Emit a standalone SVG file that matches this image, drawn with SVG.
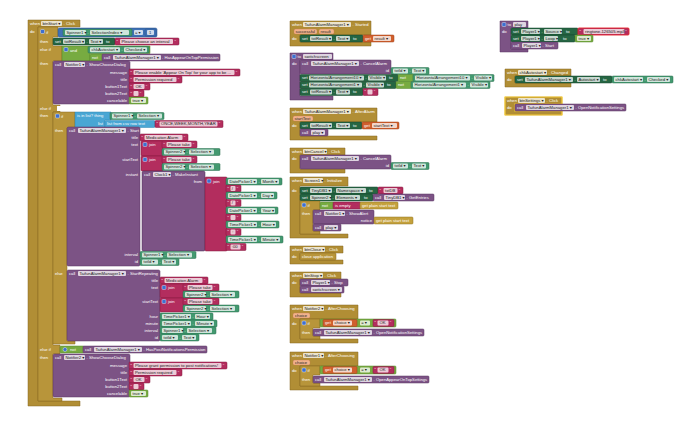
<svg xmlns="http://www.w3.org/2000/svg" width="690" height="421" viewBox="0 0 690 421">
<style>
.ev{fill:#b18e35;stroke:#846720;stroke-width:.5}
.ct{fill:#b8953a;stroke:#846720;stroke-width:.5}
.pr{fill:#7c5385;stroke:#583762;stroke-width:.5}
.st{fill:#266643;stroke:#16452c;stroke-width:.5}
.cg{fill:#439970;stroke:#2b6f4e;stroke-width:.5}
.tx{fill:#b32d5e;stroke:#84183e;stroke-width:.5}
.lg{fill:#77ab41;stroke:#55862a;stroke-width:.5}
.mt{fill:#3f71b5;stroke:#2b538b;stroke-width:.5}
.ls{fill:#49a6d4;stroke:#2f86b0;stroke-width:.5}
.vr{fill:#d05f2d;stroke:#a2431a;stroke-width:.5}
.gv{fill:#c4a13d;stroke:#927522;stroke-width:.5}
.pm{fill:#f2b38d;stroke:#c57a4c;stroke-width:.4}
.fd{fill:#fff;fill-opacity:.75}
.gear{fill:#3d6fd0;stroke:#fff;stroke-width:.4}
text{font-family:"Liberation Sans",Arial,"DejaVu Sans",sans-serif;font-size:4.2px}
.w{fill:#fff}
.k{fill:#222}
.e{text-anchor:end}
</style>
<rect width="690" height="421" fill="#fff"/>

<!-- ================= LEFT: when btnStart.Click ================= -->
<g id="btnStart-click">
<path class="ev" d="M28 20H80V27H38V401H80V406H28Z"/>
<text class="w" x="30" y="24.8">when</text>
<rect class="fd" x="41" y="21" width="21" height="5" rx="1"/><text class="k" x="42.5" y="24.8">btnStart ▾</text>
<text class="w" x="63.5" y="24.8">.</text><text class="w" x="66" y="24.8">Click</text>
<text class="w" x="30" y="33">do</text>

<g id="if-main">
<path class="ct" d="M38 27H58V37H53V46H62V61H53V105H60V112H53V345H60V354H53V398H62V401H38Z"/>
<rect class="gear" x="40.5" y="29.5" width="4" height="4" rx="1"/>
<text class="w" x="46" y="33.5">if</text>
<text class="w" x="40" y="43">then</text>
<text class="w" x="40" y="51">else if</text>
<text class="w" x="40" y="65">then</text>
<text class="w" x="40" y="110">else if</text>
<rect x="57" y="106" width="4" height="5" fill="#fff"/>
<text class="w" x="40" y="117">then</text>
<text class="w" x="40" y="351">else if</text>
<text class="w" x="40" y="359">then</text>
</g>

<g id="cond-selectionindex">
<rect class="mt" x="58" y="28" width="99" height="9" rx="1.5"/>
<rect class="cg" x="63" y="29" width="69" height="7" rx="1"/>
<rect class="fd" x="65" y="30" width="21" height="5" rx="1"/><text class="k" x="66.5" y="33.8">Spinner1 ▾</text>
<text class="w" x="87.5" y="33.8">.</text>
<rect class="fd" x="90" y="30" width="39" height="5" rx="1"/><text class="k" x="91.5" y="33.8">SelectionIndex ▾</text>
<rect class="fd" x="134" y="30" width="9" height="5" rx="1"/><text class="k" x="135" y="33.8">= ▾</text>
<rect class="mt" x="145" y="29" width="11" height="7" rx="1"/>
<rect class="fd" x="147" y="30" width="7" height="5" rx="1"/><text class="k" x="149" y="33.8">1</text>
</g>

<g id="set-result-choose">
<rect class="st" x="53" y="38" width="62" height="7" rx="1"/>
<text class="w" x="55" y="42.8">set</text>
<rect class="fd" x="63" y="39" width="22" height="5" rx="1"/><text class="k" x="64.5" y="42.8">txtResult ▾</text>
<text class="w" x="86.5" y="42.8">.</text>
<rect class="fd" x="89" y="39" width="14" height="5" rx="1"/><text class="k" x="90.5" y="42.8">Text ▾</text>
<text class="w" x="106" y="42.8">to</text>
<rect class="tx" x="115" y="38" width="64" height="7" rx="1"/>
<text class="w" x="116.5" y="42.8">“</text>
<rect class="fd" x="120" y="39" width="53" height="5" rx="1"/><text class="k" x="121.5" y="42.8">Please choose an interval</text>
<text class="w" x="174.5" y="42.8">”</text>
</g>

<g id="cond-and">
<path class="lg" d="M62 46H150V53.5H90V61H62Z"/>
<rect class="gear" x="64" y="47.5" width="4" height="4" rx="1"/>
<text class="w" x="70" y="51.5">and</text>
<rect class="cg" x="88" y="46.5" width="61" height="6.5" rx="1"/>
<rect class="fd" x="90" y="47.3" width="30" height="5" rx="1"/><text class="k" x="91.5" y="51.1">chkAutostart ▾</text>
<text class="w" x="121.5" y="51.1">.</text>
<rect class="fd" x="124" y="47.3" width="23" height="5" rx="1"/><text class="k" x="125.5" y="51.1">Checked ▾</text>
<rect class="lg" x="90" y="54" width="13" height="7" rx="1"/>
<text class="w" x="92" y="58.8">not</text>
<rect class="pr" x="102" y="54" width="118" height="7" rx="1"/>
<text class="w" x="104" y="58.8">call</text>
<rect class="fd" x="113" y="55" width="48" height="5" rx="1"/><text class="k" x="114.5" y="58.8">TaifunAlarmManager1 ▾</text>
<text class="w" x="162" y="58.8">.</text>
<text class="w" x="164.5" y="58.8">HasAppearOnTopPermission</text>
</g>

<g id="notifier1-choose">
<rect class="pr" x="53" y="61" width="77" height="43" rx="1.5"/>
<text class="w" x="55" y="65.8">call</text>
<rect class="fd" x="64" y="62" width="21" height="5" rx="1"/><text class="k" x="65.5" y="65.8">Notifier1 ▾</text>
<text class="w" x="86.5" y="65.8">.</text>
<text class="w" x="89" y="65.8">ShowChooseDialog</text>
<text class="w e" x="127" y="73.8">message</text>
<text class="w e" x="127" y="80.8">title</text>
<text class="w e" x="127" y="87.8">button1Text</text>
<text class="w e" x="127" y="94.8">button2Text</text>
<text class="w e" x="127" y="101.8">cancelable</text>
<rect class="tx" x="129" y="69" width="111" height="7" rx="1"/><text class="w" x="130.5" y="73.8">“</text>
<rect class="fd" x="133.5" y="70" width="101" height="5" rx="1"/><text class="k" x="135" y="73.8">Please enable 'Appear On Top' for your app to be ...</text><text class="w" x="235.8" y="73.8">”</text>
<rect class="tx" x="129" y="76" width="53" height="7" rx="1"/><text class="w" x="130.5" y="80.8">“</text>
<rect class="fd" x="133.5" y="77" width="43" height="5" rx="1"/><text class="k" x="135" y="80.8">Permission required</text><text class="w" x="177.8" y="80.8">”</text>
<rect class="tx" x="129" y="83" width="21" height="7" rx="1"/><text class="w" x="130.5" y="87.8">“</text>
<rect class="fd" x="133.5" y="84" width="11" height="5" rx="1"/><text class="k" x="135.5" y="87.8">OK</text><text class="w" x="145.8" y="87.8">”</text>
<rect class="tx" x="129" y="90" width="15" height="7" rx="1"/><text class="w" x="130.5" y="94.8">“</text>
<rect class="fd" x="133.5" y="91" width="5" height="5" rx="1"/><text class="w" x="139.8" y="94.8">”</text>
<rect class="lg" x="129" y="97" width="19" height="7" rx="1"/>
<rect class="fd" x="131" y="98" width="15" height="5" rx="1"/><text class="k" x="132.5" y="101.8">true ▾</text>
</g>

<g id="if-inner">
<path class="ct" d="M53 112H75V128H67V341H75V344H53Z"/>
<rect class="gear" x="55.5" y="114" width="4" height="4" rx="1"/>
<text class="w" x="61" y="117.8">if</text>
<text class="w" x="55" y="132">then</text>
<text class="w" x="55" y="275">else</text>
</g>

<g id="cond-isinlist">
<path class="ls" d="M75 112H111V120H105V128H75Z"/>
<text class="w" x="77" y="116.8">is in list? thing</text>
<text class="w e" x="103" y="124.8">list</text>
<rect class="cg" x="110" y="112.5" width="54" height="7" rx="1"/>
<rect class="fd" x="112" y="113.5" width="21" height="5" rx="1"/><text class="k" x="113.5" y="117.3">Spinner1 ▾</text>
<text class="w" x="134.5" y="117.3">.</text>
<rect class="fd" x="137" y="113.5" width="25" height="5" rx="1"/><text class="k" x="138.5" y="117.3">Selection ▾</text>
<rect class="ls" x="105" y="120.5" width="50" height="7" rx="1"/>
<text class="w" x="107" y="125.3">list from csv row text</text>
<rect class="tx" x="155" y="120.5" width="68" height="7" rx="1"/><text class="w" x="156.5" y="125.3">“</text>
<rect class="fd" x="159.5" y="121.5" width="58" height="5" rx="1"/><text class="k" x="161" y="125.3">ONCE,WEEK,MONTH,YEAR</text><text class="w" x="218.8" y="125.3">”</text>
</g>

<g id="alarm-start">
<rect class="pr" x="67" y="127" width="73" height="139" rx="1.5"/>
<text class="w" x="69" y="131.8">call</text>
<rect class="fd" x="78" y="128" width="48" height="5" rx="1"/><text class="k" x="79.5" y="131.8">TaifunAlarmManager1 ▾</text>
<text class="w" x="127.5" y="131.8">.</text>
<text class="w" x="130" y="131.8">Start</text>
<text class="w e" x="138" y="138.8">title</text>
<text class="w e" x="138" y="145.8">text</text>
<text class="w e" x="138" y="160.8">startText</text>
<text class="w e" x="138" y="175.8">instant</text>
<text class="w e" x="138" y="256">interval</text>
<text class="w e" x="138" y="263">id</text>
<rect class="tx" x="140" y="134" width="48" height="7" rx="1"/><text class="w" x="141.5" y="138.8">“</text>
<rect class="fd" x="144.5" y="135" width="38" height="5" rx="1"/><text class="k" x="146" y="138.8">Medication Alarm</text><text class="w" x="183.8" y="138.8">”</text>
<!-- text join -->
<rect class="tx" x="141" y="141" width="22" height="15" rx="1"/>
<rect class="gear" x="143" y="142.5" width="4" height="4" rx="1"/><text class="w" x="149" y="145.8">join</text>
<rect class="tx" x="162" y="141" width="35" height="7" rx="1"/><text class="w" x="163.5" y="145.8">“</text>
<rect class="fd" x="166.5" y="142" width="25" height="5" rx="1"/><text class="k" x="168" y="145.8">Please take</text><text class="w" x="192.8" y="145.8">”</text>
<rect class="cg" x="162" y="148.5" width="58" height="7" rx="1"/>
<rect class="fd" x="164" y="149.5" width="21" height="5" rx="1"/><text class="k" x="165.5" y="153.3">Spinner2 ▾</text>
<text class="w" x="186.5" y="153.3">.</text>
<rect class="fd" x="189" y="149.5" width="25" height="5" rx="1"/><text class="k" x="190.5" y="153.3">Selection ▾</text>
<!-- startText join -->
<rect class="tx" x="141" y="156" width="22" height="15" rx="1"/>
<rect class="gear" x="143" y="157.5" width="4" height="4" rx="1"/><text class="w" x="149" y="160.8">join</text>
<rect class="tx" x="162" y="156" width="35" height="7" rx="1"/><text class="w" x="163.5" y="160.8">“</text>
<rect class="fd" x="166.5" y="157" width="25" height="5" rx="1"/><text class="k" x="168" y="160.8">Please take</text><text class="w" x="192.8" y="160.8">”</text>
<rect class="cg" x="162" y="163.5" width="58" height="7" rx="1"/>
<rect class="fd" x="164" y="164.5" width="21" height="5" rx="1"/><text class="k" x="165.5" y="168.3">Spinner2 ▾</text>
<text class="w" x="186.5" y="168.3">.</text>
<rect class="fd" x="189" y="164.5" width="25" height="5" rx="1"/><text class="k" x="190.5" y="168.3">Selection ▾</text>
<!-- MakeInstant -->
<rect class="pr" x="142" y="171" width="63" height="80" rx="1.5" style="stroke:#4a2c53"/>
<text class="w" x="144" y="175.8">call</text>
<rect class="fd" x="153" y="172" width="18" height="5" rx="1"/><text class="k" x="154.5" y="175.8">Clock1 ▾</text>
<text class="w" x="172.5" y="175.8">.</text>
<text class="w" x="175" y="175.8">MakeInstant</text>
<text class="w e" x="202" y="182.8">from</text>
<rect class="tx" x="205" y="177" width="22" height="74" rx="1"/>
<rect class="gear" x="207" y="179" width="4" height="4" rx="1"/><text class="w" x="213" y="182.5">join</text>
<rect class="cg" x="226" y="178" width="56" height="7" rx="1"/>
<rect class="fd" x="228" y="179" width="29" height="5" rx="1"/><text class="k" x="229.5" y="182.8">DatePicker1 ▾</text><text class="w" x="258.5" y="182.8">.</text>
<rect class="fd" x="261" y="179" width="18" height="5" rx="1"/><text class="k" x="262.5" y="182.8">Month ▾</text>
<rect class="tx" x="226" y="185" width="15" height="7" rx="1"/><text class="w" x="227.5" y="189.8">“</text>
<rect class="fd" x="230.5" y="186" width="5" height="5" rx="1"/><text class="k" x="231.8" y="189.8">/</text><text class="w" x="236.8" y="189.8">”</text>
<rect class="cg" x="226" y="192" width="51" height="7" rx="1"/>
<rect class="fd" x="228" y="193" width="29" height="5" rx="1"/><text class="k" x="229.5" y="196.8">DatePicker1 ▾</text><text class="w" x="258.5" y="196.8">.</text>
<rect class="fd" x="261" y="193" width="13" height="5" rx="1"/><text class="k" x="262.5" y="196.8">Day ▾</text>
<rect class="tx" x="226" y="199.5" width="15" height="7" rx="1"/><text class="w" x="227.5" y="204.3">“</text>
<rect class="fd" x="230.5" y="200.5" width="5" height="5" rx="1"/><text class="k" x="231.8" y="204.3">/</text><text class="w" x="236.8" y="204.3">”</text>
<rect class="cg" x="226" y="207" width="52" height="7" rx="1"/>
<rect class="fd" x="228" y="208" width="29" height="5" rx="1"/><text class="k" x="229.5" y="211.8">DatePicker1 ▾</text><text class="w" x="258.5" y="211.8">.</text>
<rect class="fd" x="261" y="208" width="14" height="5" rx="1"/><text class="k" x="262.5" y="211.8">Year ▾</text>
<rect class="tx" x="226" y="214" width="15" height="7" rx="1"/><text class="w" x="227.5" y="218.8">“</text>
<rect class="fd" x="230.5" y="215" width="5" height="5" rx="1"/><text class="w" x="236.8" y="218.8">”</text>
<rect class="cg" x="226" y="221" width="53" height="7" rx="1"/>
<rect class="fd" x="228" y="222" width="29" height="5" rx="1"/><text class="k" x="229.5" y="225.8">TimePicker1 ▾</text><text class="w" x="258.5" y="225.8">.</text>
<rect class="fd" x="261" y="222" width="15" height="5" rx="1"/><text class="k" x="262.5" y="225.8">Hour ▾</text>
<rect class="tx" x="226" y="228.5" width="15" height="7" rx="1"/><text class="w" x="227.5" y="233.3">“</text>
<rect class="fd" x="230.5" y="229.5" width="5" height="5" rx="1"/><text class="k" x="232.2" y="233.3">:</text><text class="w" x="236.8" y="233.3">”</text>
<rect class="cg" x="226" y="236" width="57" height="7" rx="1"/>
<rect class="fd" x="228" y="237" width="29" height="5" rx="1"/><text class="k" x="229.5" y="240.8">TimePicker1 ▾</text><text class="w" x="258.5" y="240.8">.</text>
<rect class="fd" x="261" y="237" width="19" height="5" rx="1"/><text class="k" x="262.5" y="240.8">Minute ▾</text>
<rect class="tx" x="226" y="243.5" width="20" height="7" rx="1"/><text class="w" x="227.5" y="248.3">“</text>
<rect class="fd" x="230.5" y="244.5" width="10" height="5" rx="1"/><text class="k" x="231.8" y="248.3">:00</text><text class="w" x="241.8" y="248.3">”</text>
<!-- interval / id -->
<rect class="cg" x="140" y="251.5" width="56" height="7" rx="1"/>
<rect class="fd" x="142" y="252.5" width="21" height="5" rx="1"/><text class="k" x="143.5" y="256.3">Spinner1 ▾</text><text class="w" x="164.5" y="256.3">.</text>
<rect class="fd" x="167" y="252.5" width="25" height="5" rx="1"/><text class="k" x="168.5" y="256.3">Selection ▾</text>
<rect class="cg" x="140" y="258.5" width="39" height="7" rx="1"/>
<rect class="fd" x="142" y="259.5" width="16" height="5" rx="1"/><text class="k" x="143.5" y="263.3">txtId ▾</text><text class="w" x="159.5" y="263.3">.</text>
<rect class="fd" x="162" y="259.5" width="14" height="5" rx="1"/><text class="k" x="163.5" y="263.3">Text ▾</text>
</g>

<g id="alarm-startrepeating">
<rect class="pr" x="67" y="270" width="93" height="71" rx="1.5"/>
<text class="w" x="69" y="274.8">call</text>
<rect class="fd" x="78" y="271" width="48" height="5" rx="1"/><text class="k" x="79.5" y="274.8">TaifunAlarmManager1 ▾</text>
<text class="w" x="127.5" y="274.8">.</text>
<text class="w" x="130" y="274.8">StartRepeating</text>
<text class="w e" x="158" y="281.8">title</text>
<text class="w e" x="158" y="288.8">text</text>
<text class="w e" x="158" y="302.8">startText</text>
<text class="w e" x="158" y="317.8">hour</text>
<text class="w e" x="158" y="324.8">minute</text>
<text class="w e" x="158" y="331.8">interval</text>
<text class="w e" x="158" y="338.8">id</text>
<rect class="tx" x="160" y="277" width="48" height="7" rx="1"/><text class="w" x="161.5" y="281.8">“</text>
<rect class="fd" x="164.5" y="278" width="38" height="5" rx="1"/><text class="k" x="166" y="281.8">Medication Alarm</text><text class="w" x="203.8" y="281.8">”</text>
<rect class="tx" x="160" y="284" width="24" height="14" rx="1"/>
<rect class="gear" x="162" y="285.5" width="4" height="4" rx="1"/><text class="w" x="168" y="288.8">join</text>
<rect class="tx" x="183" y="284" width="36" height="7" rx="1"/><text class="w" x="184.5" y="288.8">“</text>
<rect class="fd" x="187.5" y="285" width="25" height="5" rx="1"/><text class="k" x="189" y="288.8">Please take</text><text class="w" x="213.8" y="288.8">”</text>
<rect class="cg" x="183" y="291" width="56" height="7" rx="1"/>
<rect class="fd" x="185" y="292" width="21" height="5" rx="1"/><text class="k" x="186.5" y="295.8">Spinner2 ▾</text><text class="w" x="207.5" y="295.8">.</text>
<rect class="fd" x="210" y="292" width="25" height="5" rx="1"/><text class="k" x="211.5" y="295.8">Selection ▾</text>
<rect class="tx" x="160" y="298" width="24" height="14" rx="1"/>
<rect class="gear" x="162" y="299.5" width="4" height="4" rx="1"/><text class="w" x="168" y="302.8">join</text>
<rect class="tx" x="183" y="298" width="36" height="7" rx="1"/><text class="w" x="184.5" y="302.8">“</text>
<rect class="fd" x="187.5" y="299" width="25" height="5" rx="1"/><text class="k" x="189" y="302.8">Please take</text><text class="w" x="213.8" y="302.8">”</text>
<rect class="cg" x="183" y="305" width="56" height="7" rx="1"/>
<rect class="fd" x="185" y="306" width="21" height="5" rx="1"/><text class="k" x="186.5" y="309.8">Spinner2 ▾</text><text class="w" x="207.5" y="309.8">.</text>
<rect class="fd" x="210" y="306" width="25" height="5" rx="1"/><text class="k" x="211.5" y="309.8">Selection ▾</text>
<rect class="cg" x="160" y="313" width="53" height="7" rx="1"/>
<rect class="fd" x="162" y="314" width="29" height="5" rx="1"/><text class="k" x="163.5" y="317.8">TimePicker1 ▾</text><text class="w" x="192.5" y="317.8">.</text>
<rect class="fd" x="195" y="314" width="15" height="5" rx="1"/><text class="k" x="196.5" y="317.8">Hour ▾</text>
<rect class="cg" x="160" y="320" width="57" height="7" rx="1"/>
<rect class="fd" x="162" y="321" width="29" height="5" rx="1"/><text class="k" x="163.5" y="324.8">TimePicker1 ▾</text><text class="w" x="192.5" y="324.8">.</text>
<rect class="fd" x="195" y="321" width="19" height="5" rx="1"/><text class="k" x="196.5" y="324.8">Minute ▾</text>
<rect class="cg" x="160" y="327" width="56" height="7" rx="1"/>
<rect class="fd" x="162" y="328" width="21" height="5" rx="1"/><text class="k" x="163.5" y="331.8">Spinner1 ▾</text><text class="w" x="184.5" y="331.8">.</text>
<rect class="fd" x="187" y="328" width="25" height="5" rx="1"/><text class="k" x="188.5" y="331.8">Selection ▾</text>
<rect class="cg" x="160" y="334" width="39" height="7" rx="1"/>
<rect class="fd" x="162" y="335" width="16" height="5" rx="1"/><text class="k" x="163.5" y="338.8">txtId ▾</text><text class="w" x="179.5" y="338.8">.</text>
<rect class="fd" x="182" y="335" width="14" height="5" rx="1"/><text class="k" x="183.5" y="338.8">Text ▾</text>
</g>

<g id="cond-postnotif">
<rect class="lg" x="60" y="346" width="24" height="7" rx="1"/>
<rect class="gear" x="63" y="347.5" width="4" height="4" rx="2"/>
<text class="w" x="70" y="350.8">not</text>
<rect class="pr" x="83" y="346" width="124" height="7" rx="1"/>
<text class="w" x="85" y="350.8">call</text>
<rect class="fd" x="94" y="347" width="48" height="5" rx="1"/><text class="k" x="95.5" y="350.8">TaifunAlarmManager1 ▾</text>
<text class="w" x="143.5" y="350.8">.</text>
<text class="w" x="146" y="350.8">HasPostNotificationsPermission</text>
</g>

<g id="notifier2-choose">
<rect class="pr" x="53" y="354" width="77" height="43" rx="1.5"/>
<text class="w" x="55" y="358.8">call</text>
<rect class="fd" x="64" y="355" width="21" height="5" rx="1"/><text class="k" x="65.5" y="358.8">Notifier2 ▾</text>
<text class="w" x="86.5" y="358.8">.</text>
<text class="w" x="89" y="358.8">ShowChooseDialog</text>
<text class="w e" x="127" y="366.8">message</text>
<text class="w e" x="127" y="373.8">title</text>
<text class="w e" x="127" y="380.8">button1Text</text>
<text class="w e" x="127" y="387.8">button2Text</text>
<text class="w e" x="127" y="394.8">cancelable</text>
<rect class="tx" x="129" y="362" width="98" height="7" rx="1"/><text class="w" x="130.5" y="366.8">“</text>
<rect class="fd" x="133.5" y="363" width="88" height="5" rx="1"/><text class="k" x="135" y="366.8">Please grant permission to post notifications!</text><text class="w" x="222.8" y="366.8">”</text>
<rect class="tx" x="129" y="369" width="53" height="7" rx="1"/><text class="w" x="130.5" y="373.8">“</text>
<rect class="fd" x="133.5" y="370" width="43" height="5" rx="1"/><text class="k" x="135" y="373.8">Permission required</text><text class="w" x="177.8" y="373.8">”</text>
<rect class="tx" x="129" y="376" width="21" height="7" rx="1"/><text class="w" x="130.5" y="380.8">“</text>
<rect class="fd" x="133.5" y="377" width="11" height="5" rx="1"/><text class="k" x="135.5" y="380.8">OK</text><text class="w" x="145.8" y="380.8">”</text>
<rect class="tx" x="129" y="383" width="15" height="7" rx="1"/><text class="w" x="130.5" y="387.8">“</text>
<rect class="fd" x="133.5" y="384" width="5" height="5" rx="1"/><text class="w" x="139.8" y="387.8">”</text>
<rect class="lg" x="129" y="390" width="19" height="7" rx="1"/>
<rect class="fd" x="131" y="391" width="15" height="5" rx="1"/><text class="k" x="132.5" y="394.8">true ▾</text>
</g>
</g>

<!-- ================= MIDDLE COLUMN ================= -->
<g id="alarm-started-event">
<path class="ev" d="M290 21H371V35H300V42H371V46H290Z"/>
<text class="w" x="292" y="25.8">when</text>
<rect class="fd" x="303" y="22" width="48" height="5" rx="1"/><text class="k" x="304.5" y="25.8">TaifunAlarmManager1 ▾</text>
<text class="w" x="352.5" y="25.8">.</text><text class="w" x="355" y="25.8">Started</text>
<rect class="pm" x="294" y="29" width="23" height="5" rx="1.5"/><text class="k" x="295.5" y="32.8">successful</text>
<rect class="pm" x="319" y="29" width="15" height="5" rx="1.5"/><text class="k" x="320.5" y="32.8">result</text>
<text class="w" x="292" y="40">do</text>
<rect class="st" x="300" y="35" width="63" height="7" rx="1"/>
<text class="w" x="302" y="39.8">set</text>
<rect class="fd" x="310" y="36" width="22" height="5" rx="1"/><text class="k" x="311.5" y="39.8">txtResult ▾</text>
<text class="w" x="333.5" y="39.8">.</text>
<rect class="fd" x="336" y="36" width="14" height="5" rx="1"/><text class="k" x="337.5" y="39.8">Text ▾</text>
<text class="w" x="353" y="39.8">to</text>
<rect class="vr" x="363" y="35" width="31" height="7" rx="1"/>
<text class="w" x="365" y="39.8">get</text>
<rect class="fd" x="373" y="36" width="18" height="5" rx="1"/><text class="k" x="374.5" y="39.8">result ▾</text>
</g>

<g id="proc-switchscreen">
<path class="pr" d="M290 53H333V60H300V96H333V100H290Z"/>
<rect class="gear" x="292" y="54.5" width="4" height="4" rx="1"/>
<text class="w" x="297.5" y="57.8">to</text>
<rect class="fd" x="303" y="54" width="29" height="5" rx="1"/><text class="k" x="304.5" y="57.8">switchscreen</text>
<text class="w" x="292" y="65">do</text>
<rect class="pr" x="300" y="60" width="91" height="14" rx="1"/>
<text class="w" x="302" y="64.8">call</text>
<rect class="fd" x="311" y="61" width="48" height="5" rx="1"/><text class="k" x="312.5" y="64.8">TaifunAlarmManager1 ▾</text>
<text class="w" x="360.5" y="64.8">.</text><text class="w" x="363" y="64.8">CancelAlarm</text>
<text class="w e" x="389" y="71.8">id</text>
<rect class="cg" x="391" y="67.5" width="38" height="7" rx="1"/>
<rect class="fd" x="393" y="68.5" width="15" height="5" rx="1"/><text class="k" x="394.5" y="72.3">txtId ▾</text><text class="w" x="409.5" y="72.3">.</text>
<rect class="fd" x="412" y="68.5" width="14" height="5" rx="1"/><text class="k" x="413.5" y="72.3">Text ▾</text>
<rect class="st" x="300" y="74.5" width="98" height="7" rx="1"/>
<text class="w" x="302" y="79.3">set</text>
<rect class="fd" x="309" y="75.5" width="55" height="5" rx="1"/><text class="k" x="310.5" y="79.3">HorizontalArrangement10 ▾</text>
<text class="w" x="365.5" y="79.3">.</text>
<rect class="fd" x="368" y="75.5" width="18" height="5" rx="1"/><text class="k" x="369.5" y="79.3">Visible ▾</text>
<text class="w" x="389" y="79.3">to</text>
<rect class="lg" x="398" y="74.5" width="16" height="7" rx="1"/><text class="w" x="400" y="79.3">not</text>
<rect class="cg" x="413" y="74.5" width="81" height="7" rx="1"/>
<rect class="fd" x="415" y="75.5" width="55" height="5" rx="1"/><text class="k" x="416.5" y="79.3">HorizontalArrangement10 ▾</text>
<text class="w" x="471.5" y="79.3">.</text>
<rect class="fd" x="474" y="75.5" width="18" height="5" rx="1"/><text class="k" x="475.5" y="79.3">Visible ▾</text>
<rect class="st" x="300" y="81.5" width="96" height="7" rx="1"/>
<text class="w" x="302" y="86.3">set</text>
<rect class="fd" x="309" y="82.5" width="53" height="5" rx="1"/><text class="k" x="310.5" y="86.3">HorizontalArrangement1 ▾</text>
<text class="w" x="363.5" y="86.3">.</text>
<rect class="fd" x="366" y="82.5" width="18" height="5" rx="1"/><text class="k" x="367.5" y="86.3">Visible ▾</text>
<text class="w" x="387" y="86.3">to</text>
<rect class="lg" x="396" y="81.5" width="16" height="7" rx="1"/><text class="w" x="398" y="86.3">not</text>
<rect class="cg" x="411" y="81.5" width="79" height="7" rx="1"/>
<rect class="fd" x="413" y="82.5" width="53" height="5" rx="1"/><text class="k" x="414.5" y="86.3">HorizontalArrangement1 ▾</text>
<text class="w" x="467.5" y="86.3">.</text>
<rect class="fd" x="470" y="82.5" width="18" height="5" rx="1"/><text class="k" x="471.5" y="86.3">Visible ▾</text>
<rect class="st" x="300" y="88.5" width="63" height="7" rx="1"/>
<text class="w" x="302" y="93.3">set</text>
<rect class="fd" x="310" y="89.5" width="22" height="5" rx="1"/><text class="k" x="311.5" y="93.3">txtResult ▾</text>
<text class="w" x="333.5" y="93.3">.</text>
<rect class="fd" x="336" y="89.5" width="14" height="5" rx="1"/><text class="k" x="337.5" y="93.3">Text ▾</text>
<text class="w" x="353" y="93.3">to</text>
<rect class="tx" x="363" y="88.5" width="15" height="7" rx="1"/><text class="w" x="364.5" y="93.3">“</text>
<rect class="fd" x="367.5" y="89.5" width="5" height="5" rx="1"/><text class="w" x="373.8" y="93.3">”</text>
</g>

<g id="alarm-afteralarm">
<path class="ev" d="M290 108H377V122H300V136H377V140H290Z"/>
<text class="w" x="292" y="112.8">when</text>
<rect class="fd" x="303" y="109" width="48" height="5" rx="1"/><text class="k" x="304.5" y="112.8">TaifunAlarmManager1 ▾</text>
<text class="w" x="352.5" y="112.8">.</text><text class="w" x="355" y="112.8">AfterAlarm</text>
<rect class="pm" x="293" y="116" width="20" height="5" rx="1.5"/><text class="k" x="294.5" y="119.8">startText</text>
<text class="w" x="292" y="127">do</text>
<rect class="st" x="300" y="122" width="62" height="7" rx="1"/>
<text class="w" x="302" y="126.8">set</text>
<rect class="fd" x="310" y="123" width="22" height="5" rx="1"/><text class="k" x="311.5" y="126.8">txtResult ▾</text>
<text class="w" x="333.5" y="126.8">.</text>
<rect class="fd" x="336" y="123" width="14" height="5" rx="1"/><text class="k" x="337.5" y="126.8">Text ▾</text>
<text class="w" x="353" y="126.8">to</text>
<rect class="vr" x="362" y="122" width="37" height="7" rx="1"/>
<text class="w" x="364" y="126.8">get</text>
<rect class="fd" x="372" y="123" width="25" height="5" rx="1"/><text class="k" x="373.5" y="126.8">startText ▾</text>
<rect class="pr" x="300" y="129" width="28" height="7" rx="1"/>
<text class="w" x="302" y="133.8">call</text>
<rect class="fd" x="311" y="130" width="14" height="5" rx="1"/><text class="k" x="312.5" y="133.8">play ▾</text>
</g>

<g id="btnCancel-click">
<path class="ev" d="M290 148H345V155H300V169H345V173H290Z"/>
<text class="w" x="292" y="152.8">when</text>
<rect class="fd" x="303" y="149" width="24" height="5" rx="1"/><text class="k" x="304.5" y="152.8">btnCancel ▾</text>
<text class="w" x="328.5" y="152.8">.</text><text class="w" x="331" y="152.8">Click</text>
<text class="w" x="292" y="160">do</text>
<rect class="pr" x="300" y="155" width="91" height="14" rx="1"/>
<text class="w" x="302" y="159.8">call</text>
<rect class="fd" x="311" y="156" width="48" height="5" rx="1"/><text class="k" x="312.5" y="159.8">TaifunAlarmManager1 ▾</text>
<text class="w" x="360.5" y="159.8">.</text><text class="w" x="363" y="159.8">CancelAlarm</text>
<text class="w e" x="389" y="166.8">id</text>
<rect class="cg" x="391" y="162.5" width="38" height="7" rx="1"/>
<rect class="fd" x="393" y="163.5" width="15" height="5" rx="1"/><text class="k" x="394.5" y="167.3">txtId ▾</text><text class="w" x="409.5" y="167.3">.</text>
<rect class="fd" x="412" y="163.5" width="14" height="5" rx="1"/><text class="k" x="413.5" y="167.3">Text ▾</text>
</g>

<g id="screen1-initialize">
<path class="ev" d="M290 177H348V186H300V234H348V238H290Z"/>
<text class="w" x="292" y="181.8">when</text>
<rect class="fd" x="303" y="178" width="20" height="5" rx="1"/><text class="k" x="304.5" y="181.8">Screen1 ▾</text>
<text class="w" x="324.5" y="181.8">.</text><text class="w" x="327" y="181.8">Initialize</text>
<text class="w" x="292" y="192">do</text>
<rect class="st" x="300" y="187" width="78" height="7" rx="1"/>
<text class="w" x="302" y="191.8">set</text>
<rect class="fd" x="310" y="188" width="22" height="5" rx="1"/><text class="k" x="311.5" y="191.8">TinyDB1 ▾</text>
<text class="w" x="333.5" y="191.8">.</text>
<rect class="fd" x="336" y="188" width="30" height="5" rx="1"/><text class="k" x="337.5" y="191.8">Namespace ▾</text>
<text class="w" x="369" y="191.8">to</text>
<rect class="tx" x="378" y="187" width="25" height="7" rx="1"/><text class="w" x="379.5" y="191.8">“</text>
<rect class="fd" x="383.5" y="188" width="14" height="5" rx="1"/><text class="k" x="385" y="191.8">txtDB</text><text class="w" x="398.8" y="191.8">”</text>
<rect class="st" x="300" y="194" width="73" height="7" rx="1"/>
<text class="w" x="302" y="198.8">set</text>
<rect class="fd" x="310" y="195" width="21" height="5" rx="1"/><text class="k" x="311.5" y="198.8">Spinner2 ▾</text>
<text class="w" x="332.5" y="198.8">.</text>
<rect class="fd" x="335" y="195" width="25" height="5" rx="1"/><text class="k" x="336.5" y="198.8">Elements ▾</text>
<text class="w" x="364" y="198.8">to</text>
<rect class="pr" x="373" y="194" width="61" height="7" rx="1"/>
<text class="w" x="375" y="198.8">call</text>
<rect class="fd" x="384" y="195" width="21" height="5" rx="1"/><text class="k" x="385.5" y="198.8">TinyDB1 ▾</text>
<text class="w" x="406.5" y="198.8">.</text><text class="w" x="409" y="198.8">GetEntries</text>
<path class="ct" d="M300 201H320V210H313V231H320V234H300Z"/>
<rect class="gear" x="302" y="203" width="4" height="4" rx="1"/>
<text class="w" x="307.5" y="206.8">if</text>
<text class="w" x="302" y="215">then</text>
<rect class="lg" x="320" y="202" width="14" height="7" rx="1"/><text class="w" x="322" y="206.8">not</text>
<rect class="tx" x="333" y="202" width="28" height="7" rx="1"/><text class="w" x="335" y="206.8">is empty</text>
<rect class="gv" x="360" y="202" width="38" height="7" rx="1"/><text class="w" x="362" y="206.8">get plain start text</text>
<rect class="pr" x="313" y="210" width="61" height="14" rx="1"/>
<text class="w" x="315" y="214.8">call</text>
<rect class="fd" x="324" y="211" width="21" height="5" rx="1"/><text class="k" x="325.5" y="214.8">Notifier1 ▾</text>
<text class="w" x="346.5" y="214.8">.</text><text class="w" x="349" y="214.8">ShowAlert</text>
<text class="w e" x="372" y="221.8">notice</text>
<rect class="gv" x="374" y="217" width="39" height="7" rx="1"/><text class="w" x="376" y="221.8">get plain start text</text>
<rect class="pr" x="313" y="224" width="28" height="7" rx="1"/>
<text class="w" x="315" y="228.8">call</text>
<rect class="fd" x="324" y="225" width="14" height="5" rx="1"/><text class="k" x="325.5" y="228.8">play ▾</text>
</g>

<g id="btnClose-click">
<path class="ev" d="M290 246H343V253H300V260H343V264H290Z"/>
<text class="w" x="292" y="250.8">when</text>
<rect class="fd" x="303" y="247" width="22" height="5" rx="1"/><text class="k" x="304.5" y="250.8">btnClose ▾</text>
<text class="w" x="326.5" y="250.8">.</text><text class="w" x="329" y="250.8">Click</text>
<text class="w" x="292" y="258">do</text>
<rect class="ct" x="300" y="253" width="36" height="7" rx="1"/>
<text class="w" x="302" y="257.8">close application</text>
</g>

<g id="btnStop-click">
<path class="ev" d="M290 272H341V279H300V293H341V297H290Z"/>
<text class="w" x="292" y="276.8">when</text>
<rect class="fd" x="303" y="273" width="20" height="5" rx="1"/><text class="k" x="304.5" y="276.8">btnStop ▾</text>
<text class="w" x="324.5" y="276.8">.</text><text class="w" x="327" y="276.8">Click</text>
<text class="w" x="292" y="284">do</text>
<rect class="pr" x="300" y="279" width="48" height="7" rx="1"/>
<text class="w" x="302" y="283.8">call</text>
<rect class="fd" x="311" y="280" width="19" height="5" rx="1"/><text class="k" x="312.5" y="283.8">Player1 ▾</text>
<text class="w" x="331.5" y="283.8">.</text><text class="w" x="334" y="283.8">Stop</text>
<rect class="pr" x="300" y="286" width="44" height="7" rx="1"/>
<text class="w" x="302" y="290.8">call</text>
<rect class="fd" x="311" y="287" width="31" height="5" rx="1"/><text class="k" x="312.5" y="290.8">switchscreen ▾</text>
</g>

<g id="notifier2-afterchoosing">
<path class="ev" d="M290 305H358V319H300V339H358V343H290Z"/>
<text class="w" x="292" y="309.8">when</text>
<rect class="fd" x="303" y="306" width="21" height="5" rx="1"/><text class="k" x="304.5" y="309.8">Notifier2 ▾</text>
<text class="w" x="325.5" y="309.8">.</text><text class="w" x="328" y="309.8">AfterChoosing</text>
<rect class="pm" x="293" y="313" width="17" height="5" rx="1.5"/><text class="k" x="295" y="316.8">choice</text>
<text class="w" x="292" y="325">do</text>
<path class="ct" d="M300 319H320V328H313V336H320V339H300Z"/>
<rect class="gear" x="302" y="321" width="4" height="4" rx="1"/>
<text class="w" x="307.5" y="324.8">if</text>
<text class="w" x="302" y="333.8">then</text>
<rect class="lg" x="320" y="319" width="76" height="8" rx="1"/>
<rect class="vr" x="323" y="319.5" width="34" height="7" rx="1"/>
<text class="w" x="325" y="324.3">get</text>
<rect class="fd" x="333" y="320.5" width="19" height="5" rx="1"/><text class="k" x="334.5" y="324.3">choice ▾</text>
<rect class="fd" x="360" y="320.5" width="10" height="5" rx="1"/><text class="k" x="361.2" y="324.3">= ▾</text>
<rect class="tx" x="373" y="319.5" width="21" height="7" rx="1"/><text class="w" x="374.5" y="324.3">“</text>
<rect class="fd" x="377.5" y="320.5" width="11" height="5" rx="1"/><text class="k" x="379.5" y="324.3">OK</text><text class="w" x="389.8" y="324.3">”</text>
<rect class="pr" x="313" y="329" width="111" height="7" rx="1"/>
<text class="w" x="315" y="333.8">call</text>
<rect class="fd" x="324" y="330" width="48" height="5" rx="1"/><text class="k" x="325.5" y="333.8">TaifunAlarmManager1 ▾</text>
<text class="w" x="373.5" y="333.8">.</text><text class="w" x="376" y="333.8">OpenNotificationSettings</text>
</g>

<g id="notifier1-afterchoosing">
<path class="ev" d="M290 352H358V366H300V386H358V390H290Z"/>
<text class="w" x="292" y="356.8">when</text>
<rect class="fd" x="303" y="353" width="21" height="5" rx="1"/><text class="k" x="304.5" y="356.8">Notifier1 ▾</text>
<text class="w" x="325.5" y="356.8">.</text><text class="w" x="328" y="356.8">AfterChoosing</text>
<rect class="pm" x="293" y="360" width="17" height="5" rx="1.5"/><text class="k" x="295" y="363.8">choice</text>
<text class="w" x="292" y="372">do</text>
<path class="ct" d="M300 366H320V375H313V383H320V386H300Z"/>
<rect class="gear" x="302" y="368" width="4" height="4" rx="1"/>
<text class="w" x="307.5" y="371.8">if</text>
<text class="w" x="302" y="380.8">then</text>
<rect class="lg" x="320" y="366" width="76" height="8" rx="1"/>
<rect class="vr" x="323" y="366.5" width="34" height="7" rx="1"/>
<text class="w" x="325" y="371.3">get</text>
<rect class="fd" x="333" y="367.5" width="19" height="5" rx="1"/><text class="k" x="334.5" y="371.3">choice ▾</text>
<rect class="fd" x="360" y="367.5" width="10" height="5" rx="1"/><text class="k" x="361.2" y="371.3">= ▾</text>
<rect class="tx" x="373" y="366.5" width="21" height="7" rx="1"/><text class="w" x="374.5" y="371.3">“</text>
<rect class="fd" x="377.5" y="367.5" width="11" height="5" rx="1"/><text class="k" x="379.5" y="371.3">OK</text><text class="w" x="389.8" y="371.3">”</text>
<rect class="pr" x="313" y="376" width="116" height="7" rx="1"/>
<text class="w" x="315" y="380.8">call</text>
<rect class="fd" x="324" y="377" width="48" height="5" rx="1"/><text class="k" x="325.5" y="380.8">TaifunAlarmManager1 ▾</text>
<text class="w" x="373.5" y="380.8">.</text><text class="w" x="376" y="380.8">OpenAppearOnTopSettings</text>
</g>

<!-- ================= RIGHT COLUMN ================= -->
<g id="proc-play">
<path class="pr" d="M500 21H528V28H511V49H528V52H500Z"/>
<rect class="gear" x="502" y="22.5" width="4" height="4" rx="1"/>
<text class="w" x="507.5" y="25.8">to</text>
<rect class="fd" x="513" y="22" width="13" height="5" rx="1"/><text class="k" x="514.5" y="25.8">play</text>
<text class="w" x="502" y="33">do</text>
<rect class="st" x="511" y="28" width="67" height="7" rx="1"/>
<text class="w" x="513" y="32.8">set</text>
<rect class="fd" x="521" y="29" width="19" height="5" rx="1"/><text class="k" x="522.5" y="32.8">Player1 ▾</text>
<text class="w" x="541.5" y="32.8">.</text>
<rect class="fd" x="544" y="29" width="18" height="5" rx="1"/><text class="k" x="545.5" y="32.8">Source ▾</text>
<text class="w" x="566" y="32.8">to</text>
<rect class="tx" x="578" y="28" width="51" height="7" rx="1" style="stroke:#e8262b;stroke-width:.9"/><text class="w" x="579.5" y="32.8">“</text>
<rect class="fd" x="583.5" y="29" width="41" height="5" rx="1"/><text class="k" x="585" y="32.8">ringtone-126505.mp3</text><text class="w" x="625.3" y="32.8">”</text>
<rect class="st" x="511" y="35" width="64" height="7" rx="1"/>
<text class="w" x="513" y="39.8">set</text>
<rect class="fd" x="521" y="36" width="19" height="5" rx="1"/><text class="k" x="522.5" y="39.8">Player1 ▾</text>
<text class="w" x="541.5" y="39.8">.</text>
<rect class="fd" x="544" y="36" width="14" height="5" rx="1"/><text class="k" x="545.5" y="39.8">Loop ▾</text>
<text class="w" x="563" y="39.8">to</text>
<rect class="lg" x="575" y="35" width="18" height="7" rx="1"/>
<rect class="fd" x="577" y="36" width="14" height="5" rx="1"/><text class="k" x="578.5" y="39.8">true ▾</text>
<rect class="pr" x="511" y="42" width="47" height="7" rx="1"/>
<text class="w" x="513" y="46.8">call</text>
<rect class="fd" x="522" y="43" width="19" height="5" rx="1"/><text class="k" x="523.5" y="46.8">Player1 ▾</text>
<text class="w" x="542.5" y="46.8">.</text><text class="w" x="545" y="46.8">Start</text>
</g>

<g id="chkAutostart-changed">
<path class="ev" d="M505 69H571V76H515V83H571V87H505Z"/>
<text class="w" x="507" y="73.8">when</text>
<rect class="fd" x="518" y="70" width="29" height="5" rx="1"/><text class="k" x="519.5" y="73.8">chkAutostart ▾</text>
<text class="w" x="548.5" y="73.8">.</text><text class="w" x="551" y="73.8">Changed</text>
<text class="w" x="507" y="81">do</text>
<rect class="st" x="515" y="76" width="97" height="7" rx="1"/>
<text class="w" x="517" y="80.8">set</text>
<rect class="fd" x="525" y="77" width="48" height="5" rx="1"/><text class="k" x="526.5" y="80.8">TaifunAlarmManager1 ▾</text>
<text class="w" x="574.5" y="80.8">.</text>
<rect class="fd" x="577" y="77" width="23" height="5" rx="1"/><text class="k" x="578.5" y="80.8">Autostart ▾</text>
<text class="w" x="603" y="80.8">to</text>
<rect class="cg" x="612" y="76" width="61" height="7" rx="1"/>
<rect class="fd" x="614" y="77" width="29" height="5" rx="1"/><text class="k" x="615.5" y="80.8">chkAutostart ▾</text>
<text class="w" x="644.5" y="80.8">.</text>
<rect class="fd" x="647" y="77" width="23" height="5" rx="1"/><text class="k" x="648.5" y="80.8">Checked ▾</text>
</g>

<g id="btnSettings-click">
<path class="ev" d="M505 97H562V104H515V111H562V115H505Z"/>
<path d="M505 97H562V104H515V111H562V115H505Z" fill="none" stroke="#ffd43b" stroke-width="1.2"/>
<text class="w" x="507" y="101.8">when</text>
<rect class="fd" x="518" y="98" width="27" height="5" rx="1"/><text class="k" x="519.5" y="101.8">btnSettings ▾</text>
<text class="w" x="546.5" y="101.8">.</text><text class="w" x="549" y="101.8">Click</text>
<text class="w" x="507" y="109">do</text>
<rect class="pr" x="515" y="104" width="111" height="7" rx="1"/>
<text class="w" x="517" y="108.8">call</text>
<rect class="fd" x="526" y="105" width="48" height="5" rx="1"/><text class="k" x="527.5" y="108.8">TaifunAlarmManager1 ▾</text>
<text class="w" x="575.5" y="108.8">.</text><text class="w" x="578" y="108.8">OpenNotificationSettings</text>
</g>

<g id="connectors"></g>
</svg>
